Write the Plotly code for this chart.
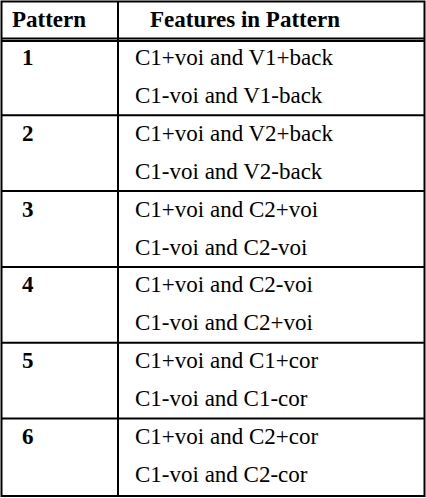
import plotly.graph_objects as go

headers = ["Pattern", "Features in Pattern"]
patterns = ["1", "2", "3", "4", "5", "6"]
line1 = ["C1+voi and V1+back", "C1+voi and V2+back", "C1+voi and C2+voi",
         "C1+voi and C2-voi", "C1+voi and C1+cor", "C1+voi and C2+cor"]
line2 = ["C1-voi and V1-back", "C1-voi and V2-back", "C1-voi and C2-voi",
         "C1-voi and C2+voi", "C1-voi and C1-cor", "C1-voi and C2-cor"]

W, H = 426, 498
top0, rowh = 39.5, 75.8
colx = 118
font = dict(family="Liberation Serif", size=23, color="black")

shapes = [dict(type="rect", x0=1.5, x1=W-1.5, y0=1.5, y1=H-2, line=dict(color="black", width=2)),
          dict(type="line", x0=colx, x1=colx, y0=1.5, y1=H-2, line=dict(color="black", width=2)),
          dict(type="line", x0=1.5, x1=W-1.5, y0=top0-1, y1=top0-1, line=dict(color="black", width=2)),
          dict(type="line", x0=1.5, x1=W-1.5, y0=top0+1.5, y1=top0+1.5, line=dict(color="black", width=2))]
ann = [dict(x=10, y=19, text="<b>" + headers[0] + "</b>", xanchor="left"),
       dict(x=148, y=19, text="<b>" + headers[1] + "</b>", xanchor="left")]
for i, p in enumerate(patterns):
    t = top0 + i * rowh
    if i > 0:
        shapes.append(dict(type="line", x0=1.5, x1=W-1.5, y0=t, y1=t, line=dict(color="black", width=2)))
    ann.append(dict(x=20, y=t+18, text=f"<b>{p}</b>", xanchor="left"))
    ann.append(dict(x=133, y=t+18, text=line1[i], xanchor="left"))
    ann.append(dict(x=133, y=t+56, text=line2[i], xanchor="left"))
for a in ann:
    a.update(xref="x", yref="y", showarrow=False, yanchor="middle", font=font)

fig = go.Figure()
fig.update_layout(width=W, height=H, margin=dict(l=0, r=0, t=0, b=0),
                  plot_bgcolor="white", paper_bgcolor="white",
                  xaxis=dict(range=[0, W], visible=False, fixedrange=True),
                  yaxis=dict(range=[H, 0], visible=False, fixedrange=True),
                  shapes=shapes, annotations=ann, showlegend=False)
fig.write_html("out.html", config={"displayModeBar": False},
               post_script="document.body.style.margin='0';document.body.style.overflow='hidden';")
